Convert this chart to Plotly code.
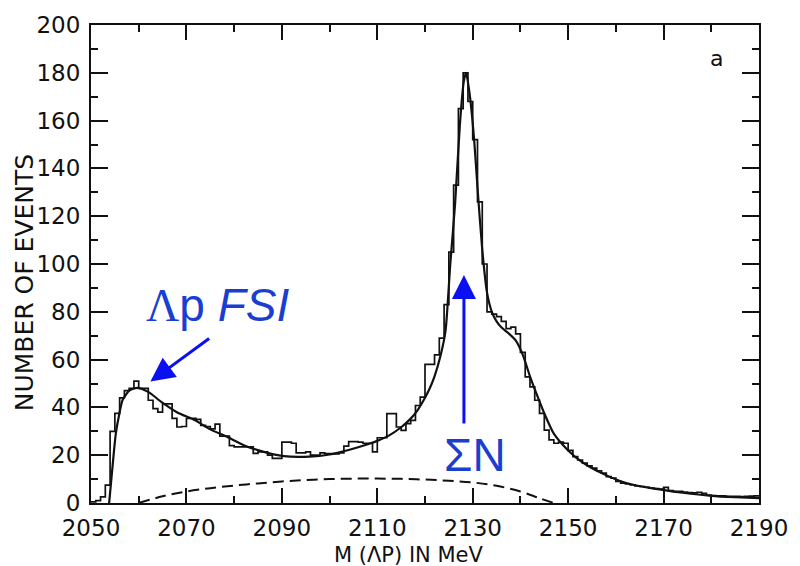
import plotly.graph_objects as go

# ---- data ----
bin_left = list(range(2050, 2190))  # 1 MeV bins
counts = [0.5, 1, 2.6, 7.5, 30, 37.5, 44, 47, 48, 51,
          48, 48, 43, 39.5, 38, 41.5, 41.5, 35.4, 31.8, 32,
          35.4, 35.4, 35, 32.5, 32, 31, 33, 28, 28, 24,
          23.5, 23.5, 23.5, 23.5, 20.8, 21.4, 21.4, 20, 18.7, 18.7,
          25.5, 25.5, 25, 21, 21, 21.4, 20, 20, 21, 20.7,
          20.7, 20.5, 21, 23.8, 25.7, 25.7, 25.5, 25, 25, 21.4,
          27.3, 27.3, 37.4, 37.4, 31.8, 30.4, 33.2, 34.6, 40.8, 44.3,
          58, 58, 62, 69, 83, 105, 133, 165, 180, 168,
          152, 126, 100, 80, 79, 78, 76, 73, 73.6, 70.8,
          63, 52.8, 48.6, 43, 37.5, 30.5, 26.4, 25, 25.5, 25,
          22, 19.4, 18, 16.7, 15.5, 14.6, 13.5, 12.5, 11, 10.4,
          9, 8.3, 8, 7.6, 7.2, 6.9, 6.6, 6.25, 6, 5.8,
          6.5, 5.2, 4.9, 4.9, 4.6, 4.4, 4.2, 4.5, 4.0, 3.3,
          3.1, 3.0, 3, 2.8, 2.8, 2.8, 2.7, 2.8, 2.9, 3.0]

fit_x = [2053.8, 2054.5, 2055.2, 2056, 2056.6, 2058, 2059.7, 2062, 2064.8, 2068,
         2071.8, 2075, 2078.6, 2082, 2085.5, 2090.4, 2095.8, 2100, 2104, 2108,
         2110, 2112.5, 2115, 2117, 2118.5, 2120, 2121, 2122, 2123.3, 2124.3,
         2125.3, 2126.3, 2127.3, 2128.1, 2128.6, 2129.3, 2130.3, 2131, 2132, 2133,
         2134, 2135, 2136, 2137.5, 2139, 2140.5, 2142, 2143.5, 2145, 2147,
         2150, 2153, 2157, 2162, 2168, 2174, 2180, 2185, 2190]
fit_y = [0, 15, 29, 38, 43, 47, 48.2, 46.5, 42.2, 38,
         34.6, 30.8, 27.6, 24.2, 21.8, 19.6, 19.4, 20.3, 22.2, 24.6,
         26, 28.3, 31.7, 35.3, 39, 44, 48, 53, 62, 72,
         100, 125, 158, 176, 180, 172, 152, 132, 106, 88,
         80, 76, 73.5, 71, 68, 62, 53, 45, 37.5, 29,
         22, 17, 12.5, 8.5, 6, 4.3, 3, 2.4, 2.0]

bg_x = [2060, 2065, 2070, 2075, 2080, 2085, 2090, 2095, 2100, 2105,
        2110, 2115, 2120, 2125, 2130, 2135, 2140, 2144, 2147]
bg_y = [0, 2.8, 4.8, 6.2, 7.3, 8.2, 9, 9.6, 10, 10.2,
        10.2, 10.1, 9.8, 9.3, 8.6, 7.2, 4.8, 2.0, 0]

x_ticks = [2050, 2070, 2090, 2110, 2130, 2150, 2170, 2190]
y_ticks = [0, 20, 40, 60, 80, 100, 120, 140, 160, 180, 200]

# histogram as step line
hx = bin_left + [bin_left[-1] + 1]
hy = counts + [counts[-1]]

fig = go.Figure()
fig.add_trace(go.Scatter(x=hx, y=hy, mode="lines", line=dict(color="#111", width=1.7, shape="hv"),
                         showlegend=False, hoverinfo="skip"))
fig.add_trace(go.Scatter(x=fit_x, y=fit_y, mode="lines",
                         line=dict(color="#111", width=2.2, shape="spline", smoothing=0.6),
                         showlegend=False, hoverinfo="skip"))
fig.add_trace(go.Scatter(x=bg_x, y=bg_y, mode="lines",
                         line=dict(color="#111", width=2, dash="11px,6px", shape="spline"),
                         showlegend=False, hoverinfo="skip"))

tickfont = dict(family="DejaVu Sans", size=23, color="#111")
fig.update_xaxes(range=[2050, 2190], tickvals=x_ticks, ticktext=[str(v) for v in x_ticks],
                 ticks="inside", ticklen=15, tickwidth=1.6, tickcolor="#111",
                 minor=dict(dtick=10, tick0=2050, ticks="inside", ticklen=7, tickwidth=1.6, tickcolor="#111"),
                 showline=True, linecolor="#111", linewidth=2, mirror="ticks",
                 showgrid=False, zeroline=False, tickfont=tickfont, ticklabelstandoff=3)
fig.update_yaxes(range=[0, 200], tickvals=y_ticks, ticktext=[str(v) for v in y_ticks],
                 ticks="inside", ticklen=17, tickwidth=1.6, tickcolor="#111",
                 minor=dict(dtick=10, tick0=0, ticks="inside", ticklen=7, tickwidth=1.6, tickcolor="#111"),
                 showline=True, linecolor="#111", linewidth=2, mirror="ticks",
                 showgrid=False, zeroline=False, tickfont=tickfont, ticklabelstandoff=4)

blue_txt = "#1a3fd0"
blue_arrow = "#0a10f0"
fig.update_layout(
    width=800, height=566, margin=dict(l=91, r=32, t=23, b=63),
    paper_bgcolor="white", plot_bgcolor="white",
    annotations=[
        dict(text="NUMBER OF EVENTS", xref="paper", yref="paper", x=-0.1, y=0.46,
             xanchor="center", yanchor="middle",
             textangle=-90, showarrow=False, font=dict(family="DejaVu Sans", size=25, color="#111")),
        dict(text="M (ΛP) IN MeV", xref="paper", yref="paper", x=0.4756, y=-0.108,
             xanchor="center", yanchor="middle",
             showarrow=False, font=dict(family="DejaVu Sans", size=21, color="#111")),
        dict(text="a", xref="paper", yref="paper", x=0.9365, y=0.93,
             xanchor="center", yanchor="middle",
             showarrow=False, font=dict(family="DejaVu Sans", size=22, color="#111")),
        dict(text='<span style="font-family:Liberation Serif">Λ</span>p <i>FSI</i>',
             x=2076.6, y=83, xref="x", yref="y", showarrow=False,
             xanchor="center", yanchor="middle",
             font=dict(family="Liberation Sans", size=46, color=blue_txt)),
        dict(text="ΣN", x=2130.4, y=20, xref="x", yref="y", showarrow=False,
             xanchor="center", yanchor="middle",
             font=dict(family="Liberation Sans", size=46, color=blue_txt)),
        dict(text="", x=2062.45, y=50.8, ax=2075.07, ay=69.3, xref="x", yref="y",
             axref="x", ayref="y", showarrow=True, arrowhead=2, arrowsize=1.6,
             arrowwidth=3, arrowcolor=blue_arrow),
        dict(text="", x=2128.16, y=95.4, ax=2128.16, ay=32.6, xref="x", yref="y",
             axref="x", ayref="y", showarrow=True, arrowhead=2, arrowsize=1.6,
             arrowwidth=3, arrowcolor=blue_arrow),
    ],
)

fig.write_html("out.html")
